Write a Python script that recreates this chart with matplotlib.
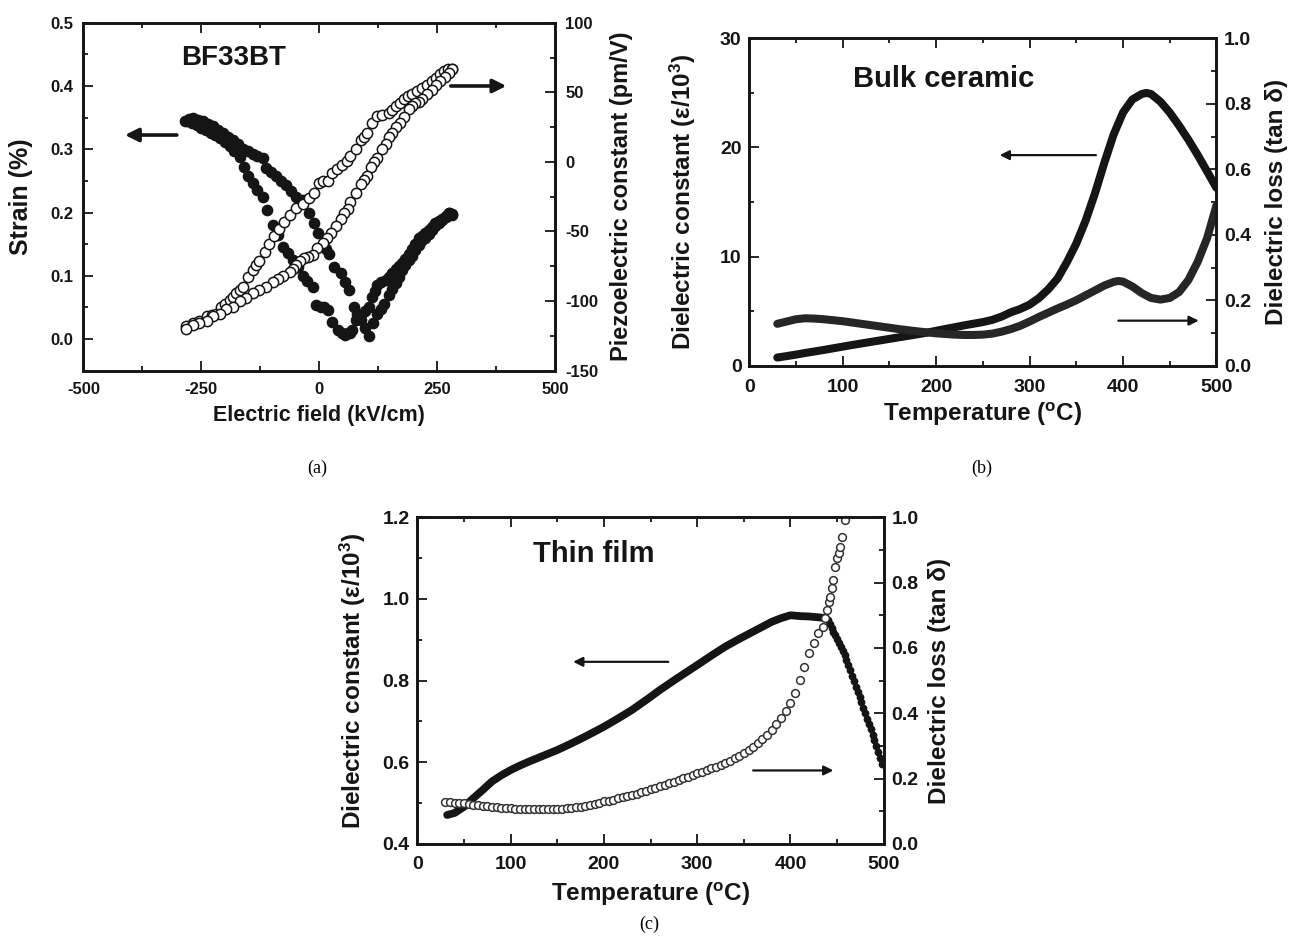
import matplotlib
matplotlib.use('Agg')
import matplotlib.pyplot as plt
from matplotlib.ticker import MultipleLocator, FormatStrFormatter

plt.rcParams['font.family'] = ['Liberation Sans', 'DejaVu Sans']
plt.rcParams['font.weight'] = 'bold'
plt.rcParams['axes.labelweight'] = 'bold'
plt.rcParams['axes.unicode_minus'] = False
plt.rcParams['mathtext.fontset'] = 'custom'
plt.rcParams['mathtext.rm'] = 'Liberation Sans:bold'
plt.rcParams['mathtext.it'] = 'Liberation Sans:bold:italic'
plt.rcParams['mathtext.bf'] = 'Liberation Sans:bold'

INK = '#151515'

# ---------------- (a) BF33BT: strain (left) and d33 (right) vs field
strain_E1 = [-285, -276, -268, -257, -246, -236, -225, -215, -204, -194,
             -183, -173, -162, -152, -141, -131, -120, -113, -102, -92,
             -81, -70, -60, -49, -35, -21, -11, -2, 7, 14,
             21, 32, 46, 55, 63, 74, 81, 88, 97, 106,
             114, 123, 130, 137, 148, 155, 162, 169, 176, 183,
             190, 197, 204, 211, 218, 225, 232, 239, 246, 254,
             261, 268, 275, 282]
strain_S1 = [0.345, 0.348, 0.349, 0.347, 0.344, 0.340, 0.336, 0.331, 0.325, 0.320,
             0.315, 0.308, 0.301, 0.297, 0.293, 0.290, 0.286, 0.270, 0.264, 0.257,
             0.250, 0.243, 0.234, 0.225, 0.220, 0.199, 0.183, 0.168, 0.151, 0.143,
             0.135, 0.114, 0.104, 0.090, 0.077, 0.051, 0.040, 0.030, 0.017, 0.004,
             0.025, 0.040, 0.048, 0.056, 0.070, 0.079, 0.088, 0.098, 0.109, 0.117,
             0.125, 0.132, 0.140, 0.148, 0.156, 0.160, 0.166, 0.172, 0.178, 0.183,
             0.188, 0.193, 0.199, 0.197]
strain_E2 = [-280, -270, -260, -250, -240, -230, -220, -210, -200, -190,
             -180, -169, -160, -150, -141, -131, -120, -110, -99, -88,
             -77, -67, -56, -46, -35, -25, -14, -7, 3, 11,
             18, 28, 39, 49, 55, 60, 65, 70, 77, 83,
             88, 97, 106, 113, 118, 123, 130, 141, 148, 155,
             162, 169, 176, 183, 190, 197, 204, 211, 218, 225,
             232, 239, 246, 254, 261, 268, 275, 282]
strain_S2 = [0.344, 0.342, 0.338, 0.334, 0.330, 0.326, 0.322, 0.318, 0.312, 0.305,
             0.298, 0.288, 0.272, 0.258, 0.246, 0.236, 0.225, 0.204, 0.180, 0.165,
             0.146, 0.136, 0.125, 0.114, 0.099, 0.091, 0.083, 0.054, 0.051, 0.050,
             0.046, 0.027, 0.014, 0.009, 0.007, 0.009, 0.010, 0.014, 0.030, 0.034,
             0.038, 0.045, 0.051, 0.067, 0.076, 0.085, 0.090, 0.093, 0.098, 0.104,
             0.110, 0.115, 0.120, 0.127, 0.135, 0.143, 0.151, 0.159, 0.163, 0.167,
             0.172, 0.177, 0.183, 0.186, 0.190, 0.195, 0.199, 0.196]

d33_E1 = [-282, -268, -254, -239, -228, -218, -208, -199, -190, -183,
          -176, -169, -162, -151, -141, -134, -127, -116, -106, -95,
          -85, -74, -63, -49, -35, -22, -10, 0, 8, 18,
          28, 38, 49, 58, 66, 77, 88, 95, 102, 113,
          123, 134, 148, 155, 162, 171, 180, 189, 197, 208,
          218, 229, 239, 248, 257, 265, 273, 282]
d33_V1 = [-118, -116, -114, -111, -110, -109, -104, -102, -99, -97,
          -94, -92, -90, -83, -78, -74, -71, -65, -59, -53,
          -48, -43, -38, -33, -30, -26, -22, -15, -14, -14,
          -8, -5, -2, 1, 4, 9, 16, 18, 21, 28,
          33, 34, 35, 37, 40, 42, 45, 47, 49, 51,
          53, 55, 58, 60, 63, 65, 67, 67]
d33_E2 = [282, 275, 266, 257, 248, 239, 229, 218, 211, 204,
          197, 190, 180, 171, 162, 155, 148, 141, 134, 123,
          116, 109, 102, 95, 88, 77, 66, 60, 53, 46,
          35, 25, 16, 7, -4, -14, -23, -32, -41, -49,
          -56, -63, -77, -88, -99, -113, -127, -141, -155, -169,
          -183, -197, -211, -225, -239, -254, -268, -282]
d33_V2 = [67, 64, 61, 58, 55, 52, 49, 45, 43, 42,
          40, 38, 32, 28, 25, 21, 18, 13, 9, 3,
          0, -4, -10, -13, -16, -22, -29, -34, -37, -41,
          -46, -51, -55, -58, -62, -67, -68, -69, -71, -74,
          -77, -79, -82, -84, -86, -90, -92, -94, -98, -100,
          -104, -106, -109, -111, -114, -116, -117, -120]

# ---------------- (b) bulk ceramic
bulk_T = [30, 40, 50, 60, 70, 80, 90, 100, 110, 120, 130, 140, 150, 160, 170,
          180, 190, 200, 210, 220, 230, 240, 250, 260, 270, 280, 290, 300, 310,
          320, 330, 340, 350, 360, 370, 380, 390, 400, 410, 420, 425, 430, 440,
          450, 460, 470, 480, 490, 500]
bulk_eps = [0.75, 0.88, 1.02, 1.17, 1.31, 1.45, 1.6, 1.75, 1.9, 2.04, 2.18, 2.32,
            2.46, 2.6, 2.74, 2.88, 3.03, 3.2, 3.37, 3.53, 3.7, 3.85, 4.0, 4.2,
            4.5, 4.9, 5.2, 5.6, 6.2, 7.0, 8.0, 9.5, 11.2, 13.3, 15.8, 18.6, 21.2,
            23.2, 24.4, 24.9, 25.0, 24.9, 24.2, 23.2, 22.0, 20.7, 19.3, 17.8, 16.3]
bulk_lossT = [30, 40, 50, 60, 70, 80, 90, 100, 120, 140, 160, 180, 200, 220, 230,
              240, 250, 260, 270, 280, 290, 300, 310, 320, 330, 340, 350, 360,
              370, 380, 390, 395, 400, 410, 420, 430, 440, 450, 460, 470, 480,
              490, 500]
bulk_loss = [0.128, 0.135, 0.142, 0.145, 0.144, 0.142, 0.139, 0.136, 0.128, 0.12,
             0.112, 0.105, 0.099, 0.095, 0.094, 0.094, 0.095, 0.098, 0.104, 0.112,
             0.122, 0.135, 0.149, 0.162, 0.175, 0.187, 0.2, 0.215, 0.23, 0.245,
             0.256, 0.259, 0.257, 0.242, 0.222, 0.207, 0.202, 0.207, 0.225, 0.262,
             0.318, 0.39, 0.49]

# ---------------- (c) thin film
film_T = [32, 40, 50, 60, 70, 80, 90, 100, 110, 120, 135, 150, 165, 180, 190,
          200, 215, 230, 245, 260, 280, 300, 315, 330, 345, 360, 370, 380, 390,
          400, 410, 420, 430, 438]
film_eps = [0.471, 0.476, 0.491, 0.512, 0.532, 0.553, 0.568, 0.581, 0.592, 0.602,
            0.616, 0.630, 0.646, 0.663, 0.675, 0.687, 0.707, 0.728, 0.752, 0.777,
            0.808, 0.838, 0.861, 0.883, 0.902, 0.920, 0.932, 0.944, 0.953, 0.960,
            0.958, 0.957, 0.955, 0.953]
film_T_hi = [440, 442, 444, 446, 448, 450, 452, 454, 456, 458, 460, 462, 464, 466,
             468, 470, 472, 474, 476, 478, 480, 482, 484, 486, 488, 490, 492, 494,
             496, 498]
film_eps_hi = [0.948, 0.938, 0.929, 0.920, 0.911, 0.902, 0.893, 0.883, 0.872,
               0.862, 0.851, 0.839, 0.826, 0.812, 0.799, 0.785, 0.773, 0.760,
               0.747, 0.734, 0.720, 0.707, 0.694, 0.681, 0.668, 0.655, 0.640,
               0.625, 0.610, 0.596]
film_lossT = [30, 35, 40, 45, 50, 55, 60, 65, 70, 75, 80, 85, 90, 95, 100, 105,
              110, 115, 120, 125, 130, 135, 140, 145, 150, 155, 160, 165, 170,
              175, 180, 185, 190, 195, 200, 205, 210, 215, 220, 225, 230, 235,
              240, 245, 250, 255, 260, 265, 270, 275, 280, 285, 290, 295, 300,
              305, 310, 315, 320, 325, 330, 335, 340, 345, 350, 355, 360, 365,
              370, 375, 380, 385, 390, 395, 400, 405, 410, 415, 420, 425, 430,
              435, 437.5, 439.5, 441, 442.5, 444, 445.5, 447.5, 449.5, 451.5,
              453, 455, 458]
film_loss = [0.127, 0.127, 0.126, 0.125, 0.124, 0.122, 0.120, 0.118, 0.117, 0.115,
             0.114, 0.112, 0.111, 0.110, 0.109, 0.108, 0.107, 0.107, 0.106, 0.106,
             0.106, 0.106, 0.106, 0.107, 0.107, 0.108, 0.109, 0.110, 0.112, 0.114,
             0.117, 0.120, 0.123, 0.126, 0.130, 0.133, 0.136, 0.140, 0.143, 0.147,
             0.150, 0.154, 0.159, 0.163, 0.167, 0.172, 0.176, 0.181, 0.186, 0.191,
             0.196, 0.201, 0.206, 0.211, 0.216, 0.221, 0.226, 0.231, 0.237, 0.243,
             0.249, 0.255, 0.262, 0.270, 0.279, 0.288, 0.298, 0.309, 0.321, 0.334,
             0.349, 0.366, 0.385, 0.406, 0.431, 0.463, 0.502, 0.543, 0.584, 0.615,
             0.645, 0.665, 0.691, 0.716, 0.742, 0.757, 0.783, 0.808, 0.849, 0.874,
             0.890, 0.910, 0.939, 0.992]


def style(ax, ax2, xt, yt, y2t, fs, xpad, ypad):
    ax.xaxis.set_major_locator(MultipleLocator(xt[0]))
    ax.xaxis.set_minor_locator(MultipleLocator(xt[1]))
    ax.yaxis.set_major_locator(MultipleLocator(yt[0]))
    ax.yaxis.set_minor_locator(MultipleLocator(yt[1]))
    ax2.yaxis.set_major_locator(MultipleLocator(y2t[0]))
    ax2.yaxis.set_minor_locator(MultipleLocator(y2t[1]))
    ax.tick_params(which='both', direction='in', top=True, right=False,
                   width=1.3, labelsize=fs, colors=INK)
    ax.tick_params(axis='x', pad=xpad)
    ax.tick_params(axis='y', pad=ypad)
    ax.tick_params(which='major', length=7)
    ax.tick_params(which='minor', length=3.5)
    ax2.tick_params(which='both', direction='in', width=1.3, labelsize=fs,
                    colors=INK, pad=ypad)
    ax2.tick_params(which='major', length=7)
    ax2.tick_params(which='minor', length=3.5)
    for a in (ax, ax2):
        for sp in a.spines.values():
            sp.set_linewidth(1.9)
            sp.set_color(INK)


def arrow(ax, tail, head, lw, ms):
    ax.annotate('', xy=head, xytext=tail,
                arrowprops=dict(arrowstyle='-|>', lw=lw, color=INK,
                                mutation_scale=ms, shrinkA=0, shrinkB=0))


fig = plt.figure(figsize=(12.9, 9.47), dpi=100)

# ---- panel (a)
axa = fig.add_axes([0.0647, 0.6086, 0.3655, 0.3674])
axa2 = axa.twinx()
axa.plot(strain_E1, strain_S1, 'o', ms=7.4, color=INK, mec=INK)
axa.plot(strain_E2, strain_S2, 'o', ms=7.4, color=INK, mec=INK)
axa2.plot(d33_E1, d33_V1, 'o', ms=7.4, mfc='white', mec=INK, mew=1.1)
axa2.plot(d33_E2, d33_V2, 'o', ms=7.4, mfc='white', mec=INK, mew=1.1)
axa.set_xlim(-500, 500)
axa.set_ylim(-0.05, 0.5)
axa2.set_ylim(-150, 100)
style(axa, axa2, (250, 125), (0.1, 0.05), (50, 25), 12, 8.5, 7.5)
axa.yaxis.set_major_formatter(FormatStrFormatter('%.1f'))
axa.set_xlabel('Electric field (kV/cm)', fontsize=15.5, color=INK)
axa.set_ylabel('Strain (%)', fontsize=18, color=INK)
axa2.set_ylabel('Piezoelectric constant (pm/V)', fontsize=17, color=INK)
axa.xaxis.set_label_coords(0.5, -0.098)
axa.yaxis.set_label_coords(-0.107, 0.5)
axa2.yaxis.set_label_coords(1.117, 0.5)
axa.text(0.208, 0.878, 'BF33BT', transform=axa.transAxes, fontsize=20,
         fontweight='bold', color=INK, va='baseline')
arrow(axa, (-302, 0.3225), (-412, 0.3225), 2.6, 20)
arrow(axa, (279, 0.40), (397, 0.40), 2.6, 20)

# ---- panel (b)
axb = fig.add_axes([0.5808, 0.6138, 0.3622, 0.3457])
axb2 = axb.twinx()
axb.plot(bulk_T, bulk_eps, '-', lw=5.8, color=INK, solid_capstyle='round')
axb2.plot(bulk_lossT, bulk_loss, '-', lw=5.8, color='#262626', solid_capstyle='round')
axb.set_xlim(0, 500)
axb.set_ylim(0, 30)
axb2.set_ylim(0, 1.0)
style(axb, axb2, (100, 50), (10, 5), (0.2, 0.1), 14, 9.5, 5.5)
axb2.yaxis.set_major_formatter(FormatStrFormatter('%.1f'))
axb.set_xlabel('Temperature ($^{\\mathrm{o}}$C)', fontsize=17.5, color=INK)
axb.set_ylabel('Dielectric constant (ε/10$^{3}$)', fontsize=17.5, color=INK)
axb2.set_ylabel('Dielectric loss (tan δ)', fontsize=17.5, color=INK)
axb.xaxis.set_label_coords(0.5, -0.108)
axb.yaxis.set_label_coords(-0.110, 0.5)
axb2.yaxis.set_label_coords(1.104, 0.5)
axb.text(0.222, 0.851, 'Bulk ceramic', transform=axb.transAxes, fontsize=21,
         fontweight='bold', color=INK, va='baseline')
arrow(axb, (371, 19.3), (268, 19.3), 1.6, 14)
arrow(axb, (395, 4.13), (481, 4.13), 1.6, 14)

# ---- panel (c)
axc = fig.add_axes([0.3235, 0.1088, 0.3616, 0.3450])
axc2 = axc.twinx()
axc.plot(film_T, film_eps, '-', lw=5.6, color=INK, solid_capstyle='round')
axc.plot(film_T_hi, film_eps_hi, 'o', ms=4.6, color=INK, mec=INK)
axc2.plot(film_lossT, film_loss, 'o', ms=5.6, mfc='white', mec='#333333',
          mew=1.1, clip_on=False)
axc.set_xlim(0, 500)
axc.set_ylim(0.4, 1.2)
axc2.set_ylim(0, 1.0)
style(axc, axc2, (100, 50), (0.2, 0.1), (0.2, 0.1), 14, 9, 5.5)
axc.yaxis.set_major_formatter(FormatStrFormatter('%.1f'))
axc2.yaxis.set_major_formatter(FormatStrFormatter('%.1f'))
axc.set_xlabel('Temperature ($^{\\mathrm{o}}$C)', fontsize=17.5, color=INK)
axc.set_ylabel('Dielectric constant (ε/10$^{3}$)', fontsize=17.5, color=INK)
axc2.set_ylabel('Dielectric loss (tan δ)', fontsize=17.5, color=INK)
axc.xaxis.set_label_coords(0.5, -0.113)
axc.yaxis.set_label_coords(-0.106, 0.5)
axc2.yaxis.set_label_coords(1.095, 0.5)
axc.text(0.248, 0.863, 'Thin film', transform=axc.transAxes, fontsize=21,
         fontweight='bold', color=INK, va='baseline')
arrow(axc, (269, 0.846), (167, 0.846), 1.6, 14)
arrow(axc, (360, 0.58), (446, 0.58), 1.6, 14)

# panel captions
for x, y, s in [(317, 468, '(a)'), (982, 468, '(b)'), (649, 924, '(c)')]:
    fig.text(x / 1290, 1 - y / 947, s, ha='center', va='center',
             fontsize=13, family='Liberation Serif', fontweight='normal')

fig.savefig('out.png', dpi=100)
